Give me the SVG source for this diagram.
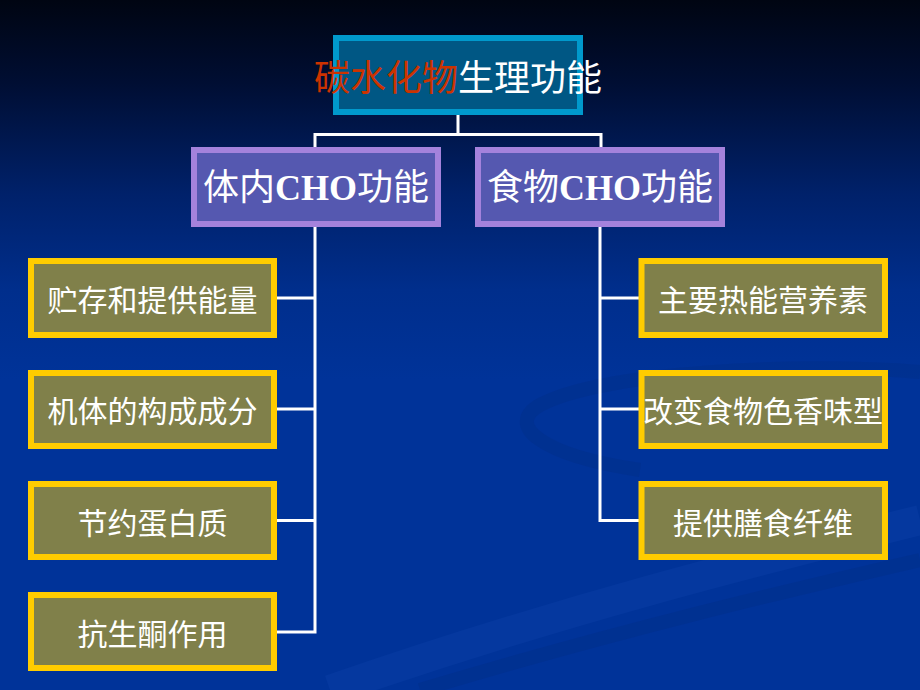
<svg xmlns="http://www.w3.org/2000/svg" width="920" height="690" viewBox="0 0 920 690">
<defs>
<linearGradient id="bg" x1="0" y1="0" x2="0" y2="1">
<stop offset="0" stop-color="#000512"/>
<stop offset="0.12" stop-color="#000e33"/>
<stop offset="0.28" stop-color="#00216a"/>
<stop offset="0.42" stop-color="#002e8c"/>
<stop offset="0.55" stop-color="#003399"/>
<stop offset="1" stop-color="#003399"/>
</linearGradient>
<style>
.top rect{fill:#005784;stroke:#0099cc;stroke-width:6}
.mid rect{fill:#5558b0;stroke:#a482dc;stroke-width:6}
.leaf rect{fill:#80804a;stroke:#ffcc00;stroke-width:6}
text{font-family:"Noto Sans CJK SC","Noto Sans CJK TC",sans-serif;fill:#ffffff;text-anchor:middle}
.t36{font-size:36px}
.t30{font-size:30px}
.lat{font-family:"Liberation Serif",serif;font-weight:bold}
#connectors path{fill:none;stroke:#ffffff;stroke-width:3}
</style>
</defs>
<rect x="0" y="0" width="920" height="690" fill="url(#bg)"/>
<g opacity="0.5">
<path d="M920 372 C800 362 600 372 540 405 C505 425 540 455 640 470" fill="none" stroke="#00308a" stroke-width="14"/>
<path d="M330 690 C560 610 760 560 920 520" fill="none" stroke="#0a3ea5" stroke-width="30"/>
<path d="M420 690 C620 630 790 590 920 560" fill="none" stroke="#00308a" stroke-width="14"/>
</g>
<g id="connectors">
<path d="M458 115 V134.5 M315 134.5 H601 M315 133 V148 M601 133 V148"/>
<path d="M315 227 V632 M277 298 H316.5 M277 409 H316.5 M277 520.5 H316.5 M277 632 H316.5"/>
<path d="M600 227 V520.5 M598.5 298 H639 M598.5 409 H639 M598.5 520.5 H639"/>
</g>
<g id="n_root" class="top">
<rect x="336" y="38" width="244" height="74"/>
<text class="t36" x="458" y="91"><tspan fill="#cc3300">碳水化物</tspan>生理功能</text>
</g>
<g id="n_body" class="mid">
<rect x="194" y="150" width="244" height="74"/>
<text class="t36" x="316" y="200">体内<tspan class="lat">CHO</tspan>功能</text>
</g>
<g id="n_food" class="mid">
<rect x="478" y="150" width="244" height="74"/>
<text class="t36" x="600" y="200">食物<tspan class="lat">CHO</tspan>功能</text>
</g>
<g id="n_l1" class="leaf">
<rect x="31" y="261" width="243" height="74"/>
<text class="t30" x="152.5" y="311">贮存和提供能量</text>
</g>
<g id="n_l2" class="leaf">
<rect x="31" y="373" width="243" height="73"/>
<text class="t30" x="152.5" y="422">机体的构成成分</text>
</g>
<g id="n_l3" class="leaf">
<rect x="31" y="484" width="243" height="73"/>
<text class="t30" x="152.5" y="534">节约蛋白质</text>
</g>
<g id="n_l4" class="leaf">
<rect x="31" y="595" width="243" height="73"/>
<text class="t30" x="152.5" y="645">抗生酮作用</text>
</g>
<g id="n_r1" class="leaf">
<rect x="641.5" y="261" width="243.5" height="74"/>
<text class="t30" x="763" y="311">主要热能营养素</text>
</g>
<g id="n_r2" class="leaf">
<rect x="641.5" y="373" width="243.5" height="73"/>
<text class="t30" x="763" y="422">改变食物色香味型</text>
</g>
<g id="n_r3" class="leaf">
<rect x="641.5" y="484" width="243.5" height="73"/>
<text class="t30" x="763" y="534">提供膳食纤维</text>
</g>
</svg>
